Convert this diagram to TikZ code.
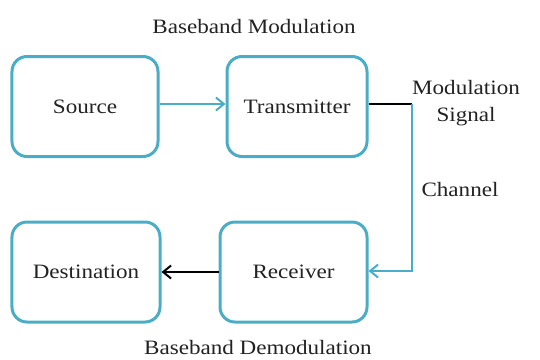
\documentclass[tikz,border=0pt]{standalone}
\usepackage{fontspec}
\setmainfont{Liberation Serif}[FakeStretch=1.13]
\usetikzlibrary{arrows.meta}
\definecolor{boxblue}{HTML}{4BACC6}
\definecolor{txt}{HTML}{222222}
\tikzset{
  blk/.style={draw=boxblue, line width=3bp, rounded corners=15bp, minimum width=#1, minimum height=100bp, inner sep=0pt, text=txt},
  lbl/.style={text=txt, inner sep=0pt, align=center},
  bluelink/.style={draw=boxblue, line width=2.6bp},
  blacklink/.style={draw=black, line width=2.8bp},
  tip/.style={-{Straight Barb[length=8bp,width=13bp,line width=2bp]}}
}
\begin{document}
\begin{tikzpicture}[x=1bp,y=-1bp,font=\fontsize{20.5}{24}\selectfont]
\useasboundingbox (0,0) rectangle (540,359);
\node[blk=146bp] (src) at (85,106.5) {Source};
\node[blk=140bp] (tx) at (297,106.5) {Transmitter};
\node[blk=148bp] (dst) at (86,272) {Destination};
\node[blk=147bp] (rx) at (293.5,272) {Receiver};
\node[lbl] (bm) at (254,27) {Baseband Modulation};
\node[lbl] (bd) at (258,348) {Baseband Demodulation};
\node[lbl, font=\fontsize{20.5}{27}\selectfont] (ms) at (466,103) {Modulation\\Signal};
\node[lbl] (ch) at (460,190) {Channel};
\coordinate (c1) at (412,104);
\coordinate (c2) at (412,271);
\draw[bluelink, tip] (src.east |- 0,104) -- (tx.west |- 0,104);
\draw[blacklink] (tx.east |- c1) -- (c1);
\draw[bluelink, tip] (c1) -- (c2) -- (rx.east |- c2);
\draw[blacklink, tip] (rx.west) -- (dst.east);
\end{tikzpicture}
\end{document}
